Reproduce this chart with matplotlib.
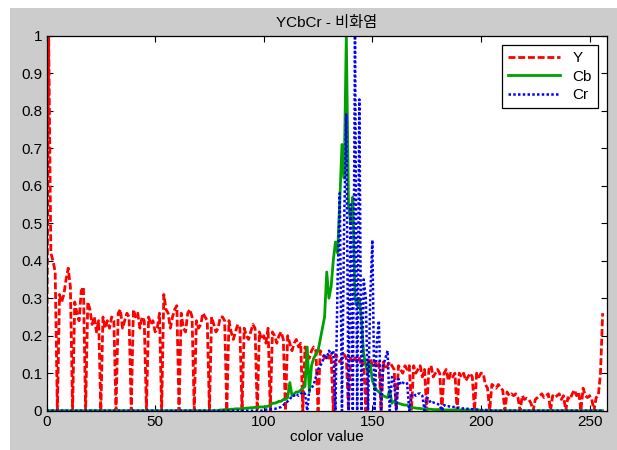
import matplotlib
matplotlib.use('Agg')
import matplotlib.pyplot as plt
import matplotlib.patches as patches
import numpy as np

plt.rcParams['font.family'] = ['Liberation Sans', 'Noto Sans CJK KR', 'DejaVu Sans']

# color value bins (0..256)
bins = np.arange(257)

# Y histogram (normalised), red dashed
y_vals = [
    0.00, 1.00, 0.42, 0.40, 0.37, 0.00, 0.31, 0.29, 0.31, 0.35,
    0.38, 0.33, 0.00, 0.29, 0.26, 0.24, 0.32, 0.33, 0.00, 0.29,
    0.27, 0.23, 0.25, 0.21, 0.24, 0.00, 0.25, 0.22, 0.24, 0.22,
    0.25, 0.24, 0.00, 0.26, 0.27, 0.22, 0.24, 0.26, 0.25, 0.00,
    0.27, 0.25, 0.26, 0.22, 0.25, 0.24, 0.00, 0.25, 0.23, 0.24,
    0.21, 0.22, 0.26, 0.00, 0.31, 0.27, 0.26, 0.22, 0.25, 0.27,
    0.28, 0.00, 0.26, 0.22, 0.21, 0.26, 0.27, 0.25, 0.00, 0.24,
    0.22, 0.23, 0.26, 0.25, 0.24, 0.00, 0.25, 0.23, 0.21, 0.22,
    0.25, 0.25, 0.24, 0.00, 0.24, 0.21, 0.19, 0.21, 0.23, 0.22,
    0.00, 0.22, 0.20, 0.19, 0.21, 0.23, 0.22, 0.00, 0.21, 0.19,
    0.20, 0.18, 0.22, 0.00, 0.21, 0.20, 0.18, 0.20, 0.21, 0.19,
    0.00, 0.20, 0.18, 0.16, 0.18, 0.19, 0.17, 0.18, 0.00, 0.17,
    0.15, 0.14, 0.16, 0.17, 0.16, 0.00, 0.16, 0.15, 0.14, 0.15,
    0.14, 0.15, 0.00, 0.15, 0.14, 0.13, 0.14, 0.15, 0.14, 0.00,
    0.14, 0.13, 0.14, 0.13, 0.14, 0.12, 0.13, 0.00, 0.13, 0.14,
    0.12, 0.13, 0.12, 0.13, 0.00, 0.13, 0.11, 0.12, 0.13, 0.12,
    0.11, 0.00, 0.12, 0.11, 0.10, 0.12, 0.11, 0.12, 0.00, 0.12,
    0.10, 0.11, 0.12, 0.09, 0.11, 0.00, 0.11, 0.12, 0.09, 0.10,
    0.11, 0.10, 0.00, 0.10, 0.11, 0.08, 0.10, 0.09, 0.10, 0.00,
    0.10, 0.09, 0.10, 0.08, 0.09, 0.10, 0.09, 0.00, 0.10, 0.09,
    0.10, 0.10, 0.07, 0.06, 0.00, 0.07, 0.065, 0.06, 0.07, 0.06,
    0.055, 0.00, 0.05, 0.04, 0.045, 0.04, 0.045, 0.035, 0.00, 0.04,
    0.03, 0.033, 0.03, 0.02, 0.00, 0.03, 0.035, 0.04, 0.045, 0.035,
    0.04, 0.045, 0.00, 0.04, 0.035, 0.04, 0.045, 0.03, 0.04, 0.00,
    0.035, 0.03, 0.045, 0.055, 0.04, 0.05, 0.00, 0.06, 0.04, 0.035,
    0.04, 0.03, 0.00, 0.035, 0.04, 0.10, 0.26,
]

# Cb histogram, green solid
cb_vals = [
    0, 0, 0, 0, 0, 0, 0, 0, 0, 0,
    0, 0, 0, 0, 0, 0, 0, 0, 0, 0,
    0, 0, 0, 0, 0, 0, 0, 0, 0, 0,
    0, 0, 0, 0, 0, 0, 0, 0, 0, 0,
    0, 0, 0, 0, 0, 0, 0, 0, 0, 0,
    0, 0, 0, 0, 0, 0, 0, 0, 0, 0,
    0, 0, 0, 0, 0, 0, 0, 0, 0, 0,
    0, 0, 0, 0, 0, 0, 0, 0, 0, 0,
    0.002, 0.002, 0.003, 0.003, 0.003, 0.004, 0.004, 0.005, 0.005, 0.005,
    0.006, 0.006, 0.007, 0.007, 0.008, 0.008, 0.009, 0.009, 0.010, 0.010,
    0.010, 0.011, 0.012, 0.015, 0.020, 0.020, 0.022, 0.025, 0.025, 0.030,
    0.030, 0.035, 0.075, 0.040, 0.045, 0.050, 0.050, 0.055, 0.060, 0.065,
    0.170, 0.050, 0.120, 0.140, 0.150, 0.160, 0.190, 0.220, 0.250, 0.370,
    0.300, 0.330, 0.400, 0.450, 0.420, 0.560, 0.710, 0.620, 1.000, 0.550,
    0.500, 0.570, 0.300, 0.280, 0.300, 0.240, 0.150, 0.120, 0.100, 0.125,
    0.080, 0.065, 0.055, 0.050, 0.045, 0.040, 0.037, 0.035, 0.055, 0.020,
    0.025, 0.020, 0.020, 0.018, 0.016, 0.015, 0.015, 0.010, 0.008, 0.008,
    0.007, 0.006, 0.006, 0.005, 0.005, 0.004, 0.004, 0.004, 0.003, 0.003,
    0.003, 0.003, 0.003, 0.002, 0.002, 0.002, 0.002, 0.002, 0.002, 0.002,
    0.002, 0.002, 0.002, 0.002, 0.002, 0.002, 0.002, 0.002, 0.002, 0.002,
    0, 0, 0, 0, 0, 0, 0, 0, 0, 0,
    0, 0, 0, 0, 0, 0, 0, 0, 0, 0,
    0, 0, 0, 0, 0, 0, 0, 0, 0, 0,
    0, 0, 0, 0, 0, 0, 0, 0, 0, 0,
    0, 0, 0, 0, 0, 0, 0, 0, 0, 0,
    0, 0, 0, 0, 0, 0, 0,
]

# Cr histogram, blue dotted
cr_vals = [
    0, 0, 0, 0, 0, 0, 0, 0, 0, 0,
    0, 0, 0, 0, 0, 0, 0, 0, 0, 0,
    0, 0, 0, 0, 0, 0, 0, 0, 0, 0,
    0, 0, 0, 0, 0, 0, 0, 0, 0, 0,
    0, 0, 0, 0, 0, 0, 0, 0, 0, 0,
    0, 0, 0, 0, 0, 0, 0, 0, 0, 0,
    0, 0, 0, 0, 0, 0, 0, 0, 0, 0,
    0, 0, 0, 0, 0, 0, 0, 0, 0, 0,
    0, 0, 0, 0, 0, 0, 0, 0, 0, 0,
    0, 0, 0, 0, 0, 0, 0, 0, 0, 0,
    0.002, 0.003, 0.003, 0.004, 0.005, 0.005, 0.006, 0.008, 0.010, 0.015,
    0.020, 0.025, 0.030, 0.040, 0.040, 0.045, 0.040, 0.045, 0.050, 0.045,
    0.000, 0.055, 0.060, 0.070, 0.090, 0.110, 0.120, 0.130, 0.150, 0.140,
    0.160, 0.150, 0.160, 0.000, 0.350, 0.580, 0.000, 0.500, 0.790, 0.000,
    0.550, 0.000, 1.000, 0.000, 0.830, 0.000, 0.350, 0.300, 0.000, 0.300,
    0.455, 0.000, 0.180, 0.240, 0.000, 0.120, 0.140, 0.160, 0.000, 0.090,
    0.080, 0.000, 0.085, 0.070, 0.075, 0.070, 0.073, 0.000, 0.040, 0.045,
    0.040, 0.045, 0.046, 0.040, 0.000, 0.035, 0.030, 0.020, 0.022, 0.020,
    0.018, 0.015, 0.000, 0.015, 0.012, 0.012, 0.010, 0.010, 0.010, 0.008,
    0.008, 0.006, 0.006, 0.005, 0.005, 0.004, 0.004, 0.003, 0.003, 0.003,
    0.002, 0.002, 0.002, 0.002, 0.002, 0, 0, 0, 0, 0,
    0, 0, 0, 0, 0, 0, 0, 0, 0, 0,
    0, 0, 0, 0, 0, 0, 0, 0, 0, 0,
    0, 0, 0, 0, 0, 0, 0, 0, 0, 0,
    0, 0, 0, 0, 0, 0, 0, 0, 0, 0,
    0, 0, 0, 0, 0, 0, 0,
]

fig = plt.figure(figsize=(6.17, 4.5), dpi=100, facecolor='white')
# grey MATLAB-style figure panel
fig.patches.append(patches.Rectangle((10 / 617, 0), 1, (450 - 8) / 450,
                                     transform=fig.transFigure,
                                     facecolor='#cccccc', edgecolor='none',
                                     zorder=-10))

ax = fig.add_axes([46.5 / 617, 1 - 410.7 / 450, (607 - 46.5) / 617, (410.7 - 35.7) / 450])
ax.set_facecolor('white')

ax.plot(bins, y_vals, color='red', linestyle=(0, (2.5, 1.0)), linewidth=2.0, label='Y')
ax.plot(bins, cb_vals, color='#00a000', linestyle='-', linewidth=2.0, label='Cb')
ax.plot(bins, cr_vals, color='blue', linestyle=(0, (1.0, 0.9)), linewidth=1.8, label='Cr')

ax.set_xlim(0, 258)
ax.set_ylim(0, 1)
ax.set_xticks([0, 50, 100, 150, 200, 250])
ax.set_yticks(np.arange(0, 1.01, 0.1))
ax.set_yticklabels(['0', '0.1', '0.2', '0.3', '0.4', '0.5', '0.6', '0.7', '0.8', '0.9', '1'])
ax.tick_params(direction='in', top=True, right=True, length=4, width=0.8,
               labelsize=11, colors='black', pad=3)
for s in ax.spines.values():
    s.set_color('black')
    s.set_linewidth(0.9)

ax.set_title('YCbCr - 비화염', fontsize=11, pad=6)
ax.set_xlabel('color value', fontsize=11, labelpad=1)

leg = ax.legend(loc='upper right', fontsize=11, frameon=True, fancybox=False,
                edgecolor='black', framealpha=1, handlelength=3.4,
                borderaxespad=0.6, labelspacing=0.3, handletextpad=0.8)
leg.get_frame().set_linewidth(0.9)

fig.savefig('out.png', dpi=100, facecolor=fig.get_facecolor())
